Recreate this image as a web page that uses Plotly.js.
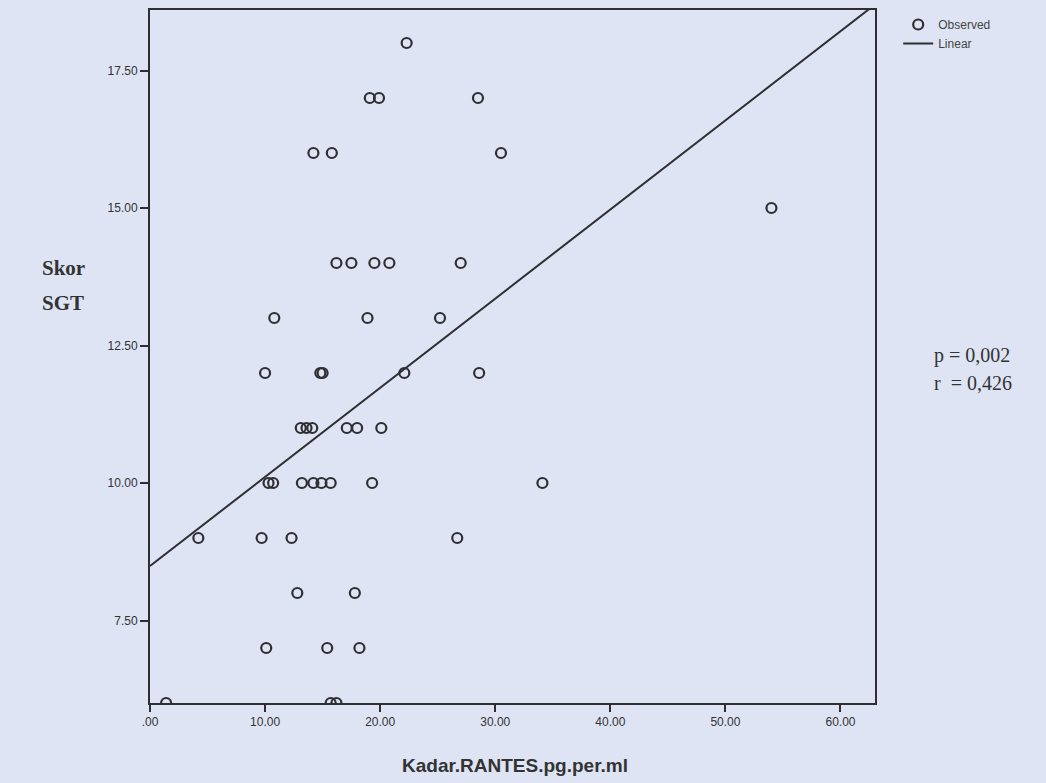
<!DOCTYPE html>
<html>
<head>
<meta charset="utf-8">
<script src="https://cdn.plot.ly/plotly-3.0.1.min.js"></script>
<style>
  html, body { margin: 0; padding: 0; background: #dee4f3; }
  #chart { width: 1046px; height: 783px; }
</style>
</head>
<body>
<div id="chart"></div>
<script>
// Observed values: Kadar RANTES (pg/ml) vs Skor SGT
const rantes = [
  22.3,
  19.1, 19.9, 28.5,
  14.2, 15.8, 30.5,
  54.0,
  16.2, 17.5, 19.5, 20.8, 27.0,
  10.8, 18.9, 25.2,
  10.0, 14.8, 15.0, 22.1, 28.6,
  13.1, 13.6, 14.1, 17.1, 18.0, 20.1,
  10.3, 10.7, 13.2, 14.2, 14.9, 15.7, 19.3, 34.1,
  4.2, 9.7, 12.3, 26.7,
  12.8, 17.8,
  10.1, 15.4, 18.2,
  1.4, 15.7, 16.2
];
const skorSGT = [
  18,
  17, 17, 17,
  16, 16, 16,
  15,
  14, 14, 14, 14, 14,
  13, 13, 13,
  12, 12, 12, 12, 12,
  11, 11, 11, 11, 11, 11,
  10, 10, 10, 10, 10, 10, 10, 10,
  9, 9, 9, 9,
  8, 8,
  7, 7, 7,
  6, 6, 6
];
// Linear fit line end points
const fitX = [0, 63];
const fitY = [8.49, 18.70];

const xTickVals = [0, 10, 20, 30, 40, 50, 60];
const xTickText = [".00", "10.00", "20.00", "30.00", "40.00", "50.00", "60.00"];
const yTickVals = [7.5, 10, 12.5, 15, 17.5];
const yTickText = ["7.50", "10.00", "12.50", "15.00", "17.50"];

const ink = "#2e2e33";
const bg = "#dee4f3";

const traces = [
  {
    type: "scatter", mode: "markers", name: "Observed",
    x: rantes, y: skorSGT,
    marker: { symbol: "circle-open", size: 10, color: ink, line: { width: 2.2, color: ink } }
  },
  {
    type: "scatter", mode: "lines", name: "Linear",
    x: fitX, y: fitY,
    line: { color: ink, width: 2 }
  }
];

const layout = {
  width: 1046, height: 783,
  paper_bgcolor: bg, plot_bgcolor: bg,
  margin: { l: 150, r: 171, t: 10, b: 80, autoexpand: false },
  font: { family: "Liberation Sans, Arial, sans-serif", color: ink },
  showlegend: true,
  legend: {
    x: 1.032, y: 1.0, xanchor: "left", yanchor: "top",
    bgcolor: "rgba(0,0,0,0)", font: { size: 12, color: "#444" },
    itemwidth: 30, tracegroupgap: 0
  },
  xaxis: {
    range: [0, 63], tickvals: xTickVals, ticktext: xTickText,
    showgrid: false, zeroline: false,
    showline: true, linecolor: ink, linewidth: 2, mirror: true,
    ticks: "outside", ticklen: 7, tickwidth: 2, tickcolor: ink,
    tickfont: { size: 12, color: "#333" }
  },
  yaxis: {
    range: [6, 18.6], tickvals: yTickVals, ticktext: yTickText,
    showgrid: false, zeroline: false,
    showline: true, linecolor: ink, linewidth: 2, mirror: true,
    ticks: "outside", ticklen: 8, tickwidth: 2, tickcolor: ink,
    tickfont: { size: 12, color: "#333" }
  },
  annotations: [
    { text: "<b>Skor</b>", xref: "paper", yref: "paper", x: -0.152, y: (703 - 268) / 693,
      xanchor: "left", yanchor: "middle", showarrow: false,
      font: { family: "Liberation Serif, Times New Roman, serif", size: 21, color: "#333" } },
    { text: "<b>SGT</b>", xref: "paper", yref: "paper", x: -0.152, y: (703 - 303) / 693,
      xanchor: "left", yanchor: "middle", showarrow: false,
      font: { family: "Liberation Serif, Times New Roman, serif", size: 21, color: "#333" } },
    { text: "p = 0,002", xref: "paper", yref: "paper", x: (932 - 150) / 725, y: (703 - 355) / 693,
      xanchor: "left", yanchor: "middle", showarrow: false,
      font: { family: "Liberation Serif, Times New Roman, serif", size: 20, color: "#333" } },
    { text: "r  = 0,426", xref: "paper", yref: "paper", x: (932 - 150) / 725, y: (703 - 383) / 693,
      xanchor: "left", yanchor: "middle", showarrow: false,
      font: { family: "Liberation Serif, Times New Roman, serif", size: 20, color: "#333" } },
    { text: "<b>Kadar.RANTES.pg.per.ml</b>", xref: "paper", yref: "paper", x: 0.503, y: (703 - 765) / 693,
      xanchor: "center", yanchor: "middle", showarrow: false,
      font: { family: "Liberation Sans, Arial, sans-serif", size: 19, color: "#333" } }
  ]
};

Plotly.newPlot("chart", traces, layout, { displayModeBar: false, staticPlot: true });
</script>
</body>
</html>
